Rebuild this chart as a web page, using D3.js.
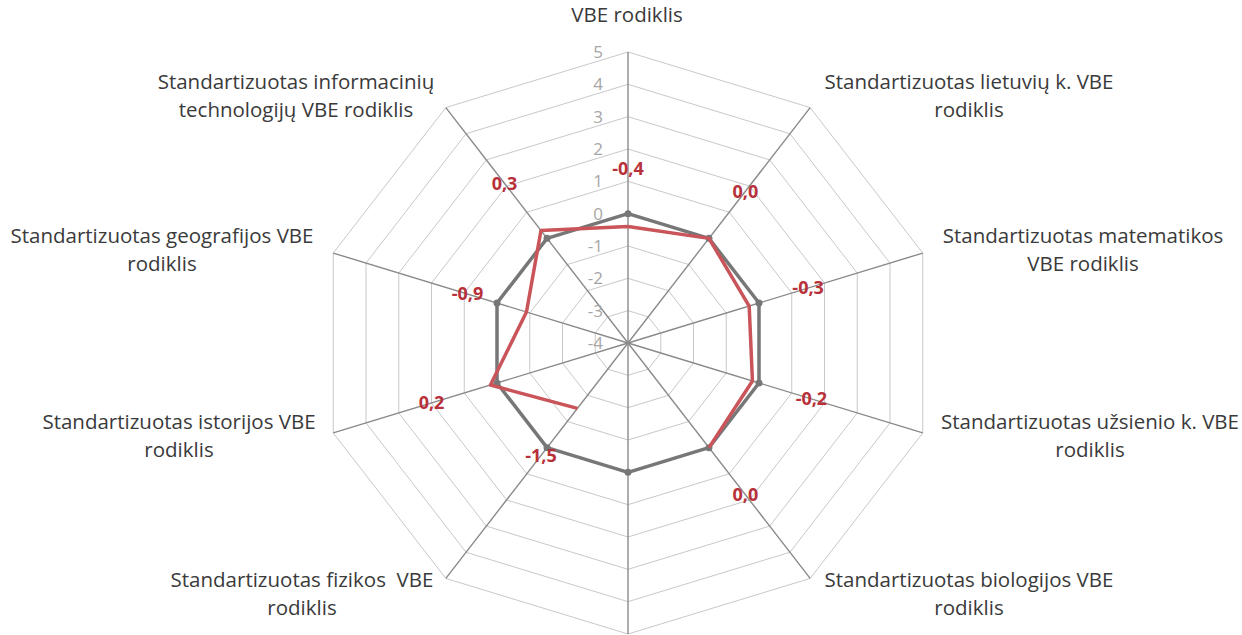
<!DOCTYPE html>
<html>
<head>
<meta charset="utf-8">
<script src="https://cdn.jsdelivr.net/npm/d3@7"></script>
<style>
  body { margin: 0; background: #fff; }
  text { font-family: "Open Sans", sans-serif; }
</style>
</head>
<body>
<script>
// Data
const categories = [
  ["VBE rodiklis"],
  ["Standartizuotas lietuvių k. VBE", "rodiklis"],
  ["Standartizuotas matematikos", "VBE rodiklis"],
  ["Standartizuotas užsienio k. VBE", "rodiklis"],
  ["Standartizuotas biologijos VBE", "rodiklis"],
  [],
  ["Standartizuotas fizikos \u00a0VBE", "rodiklis"],
  ["Standartizuotas istorijos VBE", "rodiklis"],
  ["Standartizuotas geografijos VBE", "rodiklis"],
  ["Standartizuotas informacinių", "technologijų VBE rodiklis"]
]
const baseValues = [0, 0, 0, 0, 0, 0, 0, 0, 0, 0]
const schoolValues = [-0.4, 0.0, -0.3, -0.2, 0.0, null, -1.5, 0.2, -0.9, 0.3]
const ticks = [5, 4, 3, 2, 1, 0, -1, -2, -3, -4]

const width = 1242, height = 635
const cx = 628, cy = 343
const R = 291
const kx = 1.065 // the picture is a bit wider than tall
const n = categories.length

const svg = d3.select('body').append('svg')
  .attr('width', width).attr('height', height)

// radial scale: data space -> screen space
const r = d3.scaleLinear().domain([-4, 5]).range([0, R])
const angle = i => i * 2 * Math.PI / n
const px = (i, v) => cx + Math.sin(angle(i)) * r(v) * kx
const py = (i, v) => cy - Math.cos(angle(i)) * r(v)

// rings
const ringLevels = d3.range(-3, 6)
svg.append('g').selectAll('path')
  .data(ringLevels)
  .enter().append('path')
    .attr('d', v => d3.line()(d3.range(n).map(i => [px(i, v), py(i, v)])) + 'Z')
    .attr('fill', 'none')
    .attr('stroke', '#c8c8c8')
    .attr('stroke-width', 1)

// spokes
svg.append('g').selectAll('line')
  .data(d3.range(n))
  .enter().append('line')
    .attr('x1', cx).attr('y1', cy)
    .attr('x2', i => px(i, 5)).attr('y2', i => py(i, 5))
    .attr('stroke', '#8a8a8a')
    .attr('stroke-width', 1.4)

// tick labels
svg.append('g').selectAll('text')
  .data(ticks)
  .enter().append('text')
    .attr('x', cx - 25)
    .attr('y', v => py(0, v))
    .attr('dy', '0.35em')
    .attr('text-anchor', 'end')
    .attr('fill', '#a6a6a6')
    .attr('font-size', 17)
    .text(d => d)

// series
const line = d3.line()
  .defined(d => d.v != null)
  .x(d => px(d.i, d.v))
  .y(d => py(d.i, d.v))

const closed = vals => vals.map((v, i) => ({ i, v })).concat([{ i: 0, v: vals[0] }])

svg.append('path')
  .attr('d', line(closed(baseValues)))
  .attr('fill', 'none')
  .attr('stroke', '#777777')
  .attr('stroke-width', 3.5)
  .attr('stroke-linejoin', 'round')

svg.append('g').selectAll('circle')
  .data(baseValues)
  .enter().append('circle')
    .attr('cx', (v, i) => px(i, v))
    .attr('cy', (v, i) => py(i, v))
    .attr('r', 3.5)
    .attr('fill', '#777777')

svg.append('path')
  .attr('d', line(closed(schoolValues)))
  .attr('fill', 'none')
  .attr('stroke', '#c9545a')
  .attr('stroke-width', 3.5)
  .attr('stroke-linejoin', 'round')

// value labels (sit a bit outward of each point)
const labelShift = 1.8
const fmt = v => d3.format('.1f')(v).replace('.', ',').replace('−', '-')
svg.append('g').selectAll('text')
  .data(schoolValues.map((v, i) => ({ i, v })).filter(d => d.v != null))
  .enter().append('text')
    .attr('x', d => px(d.i, d.v + labelShift))
    .attr('y', d => py(d.i, d.v + labelShift))
    .attr('dy', '0.35em')
    .attr('text-anchor', 'middle')
    .attr('fill', '#b8313a')
    .attr('font-weight', 'bold')
    .attr('font-size', 18)
    .text(d => fmt(d.v))

// category labels
const labelPos = [
  [627, 15], [969, 82], [1083, 236], [1090, 422], [969, 580],
  null, [302, 580], [179, 422], [162, 236], [296, 82]
]
categories.forEach((lines, i) => {
  if (!labelPos[i]) return
  const t = svg.append('text')
    .attr('text-anchor', 'middle')
    .attr('fill', '#3a3a3a')
    .attr('font-size', 20.5)
  lines.forEach((s, k) => {
    t.append('tspan')
      .attr('x', labelPos[i][0])
      .attr('y', labelPos[i][1] + k * 28)
      .attr('dy', '0.35em')
      .text(s)
  })
})
</script>
</body>
</html>
